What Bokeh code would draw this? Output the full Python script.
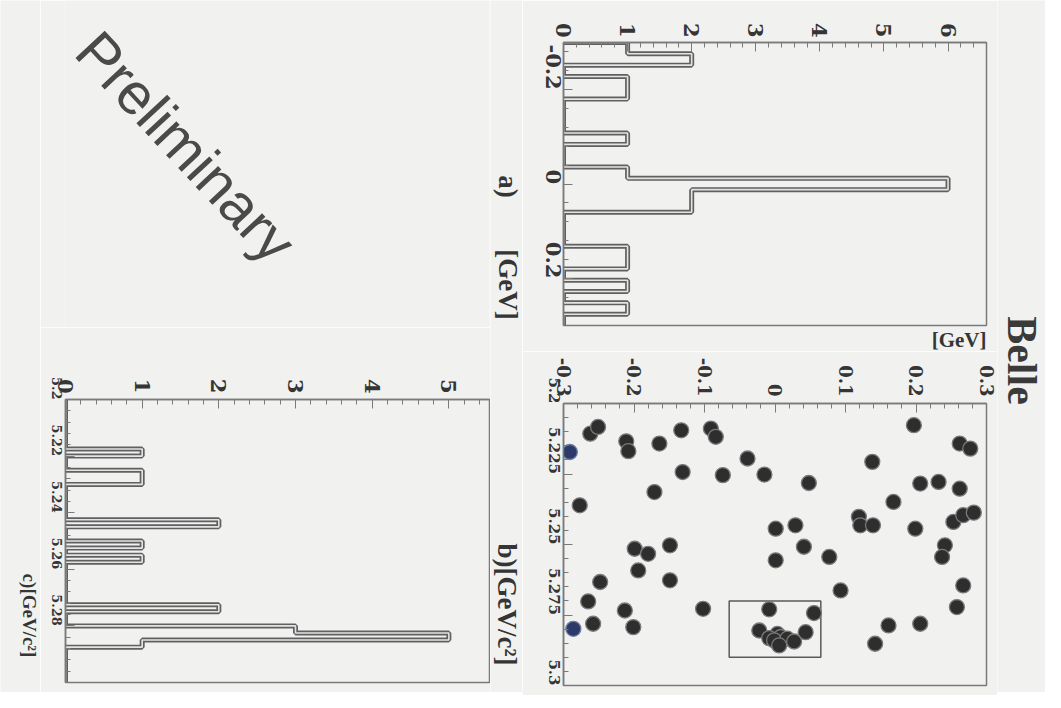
import math
import numpy as np
from bokeh.plotting import figure
from bokeh.layouts import row, column
from bokeh.models import Range1d, FixedTicker, Label, Title
from bokeh.embed import file_html
from bokeh.resources import INLINE

# ---------------- data ----------------
# a) Delta E distribution (events in the Mbc signal band), 25 bins over [-0.3, 0.3] GeV
de_range = (-0.3, 0.3)
de_nbins = 25
de_counts = [1, 2, 0, 1, 1, 0, 0, 0, 1, 0, 0, 1, 6, 2, 2, 0, 0, 0, 1, 1, 0, 1, 0, 1, 0]

# c) Mbc distribution (events in the Delta E signal band), 40 bins over [5.2, 5.3] GeV/c^2
mbc_range = (5.2, 5.3)
mbc_nbins = 40
mbc_counts = [0, 0, 0, 0, 0, 0, 0, 1, 0, 0,
              1, 1, 0, 0, 0, 0, 0, 2, 0, 0,
              1, 0, 1, 0, 0, 0, 0, 0, 0, 2,
              0, 0, 3, 5, 1, 0, 0, 0, 0, 0]

# b) scatter Mbc vs Delta E
scat_de = [-0.262, -0.251, -0.211, -0.208, -0.164, -0.133, -0.091, -0.084, -0.039, -0.131,
           -0.074, -0.015, 0.048, -0.171, -0.277, 0.138, 0.197, 0.262, 0.277, 0.206,
           0.232, 0.262, 0.168, 0.119, 0.121, 0.139, 0.199, 0.253, 0.267, 0.282,
           0.241, 0.237, 0.001, 0.029, 0.041, 0.001, 0.077, -0.199, -0.180, -0.149,
           -0.194, -0.149, -0.265, -0.248, -0.213, -0.201, -0.258, -0.102, 0.093, 0.267,
           0.258, 0.161, 0.206, 0.142,
           -0.0082, 0.0553, -0.0223, 0.0435, 0.0035, -0.0082, 0.0082, -0.0012, 0.0176, 0.0271, 0.0059]
scat_mbc = [5.2107, 5.2083, 5.2134, 5.2169, 5.2142, 5.2095, 5.2089, 5.2118, 5.2195, 5.2243,
            5.2254, 5.2252, 5.2282, 5.2314, 5.2361, 5.2207, 5.2077, 5.2142, 5.2160, 5.2284,
            5.2278, 5.2302, 5.2349, 5.2402, 5.2432, 5.2432, 5.2444, 5.2420, 5.2396, 5.2387,
            5.2503, 5.2544, 5.2444, 5.2432, 5.2508, 5.2556, 5.2544, 5.2515, 5.2533, 5.2503,
            5.2592, 5.2627, 5.2702, 5.2633, 5.2734, 5.2793, 5.2781, 5.2728, 5.2663, 5.2645,
            5.2722, 5.2787, 5.2781, 5.2852,
            5.2730, 5.2743, 5.2805, 5.2811, 5.2817, 5.2832, 5.2828, 5.2840, 5.2834, 5.2844, 5.2858]
blue_de = [-0.291, -0.286]
blue_mbc = [5.2172, 5.2799]
box_de = (-0.065, 0.065)
box_mbc = (5.27, 5.29)

# tick labels
count_ticks_a = [0, 1, 2, 3, 4, 5, 6]
de_ticks_a = [-0.2, 0.0, 0.2]
de_labels_a = ["-0.2", "0", "0.2"]
de_ticks_b = [-0.3, -0.2, -0.1, 0.0, 0.1, 0.2, 0.3]
de_labels_b = ["-0.3", "-0.2", "-0.1", "0", "0.1", "0.2", "0.3"]
mbc_ticks_b = [5.2, 5.225, 5.25, 5.275, 5.3]
mbc_labels_b = ["5.2", "5.225", "5.25", "5.275", "5.3"]
count_ticks_c = [0, 1, 2, 3, 4, 5]
mbc_ticks_c = [5.2, 5.22, 5.24, 5.26, 5.28]
mbc_labels_c = ["5.2", "5.22", "5.24", "5.26", "5.28"]

# ---------------- style ----------------
BG = "#f1f2f0"
FRAME = "#7a7a7a"
TXT = "#353535"
TICKFONT = "DejaVu Serif"
TITLEFONT = "Liberation Serif"
ROT = -math.pi / 2
FULL_H = 692


def minor(a, b, step):
    return [round(v, 5) for v in np.arange(a, b + step / 2, step)]


def base_fig(frame_w, frame_h, xr, yr, bl, br, bt, bb):
    p = figure(frame_width=frame_w, frame_height=frame_h, x_range=xr, y_range=yr,
               x_axis_location="above", y_axis_location="left",
               toolbar_location=None, output_backend="svg",
               min_border_left=bl, min_border_right=br, min_border_top=bt, min_border_bottom=bb,
               background_fill_color=BG, border_fill_color=BG)
    p.grid.visible = False
    p.outline_line_color = FRAME
    p.outline_line_width = 1.5
    return p


def style_axis(ax, ticks, minors, size, standoff, labels=None):
    ax.ticker = FixedTicker(ticks=ticks, minor_ticks=minors)
    if labels is not None:
        ax.major_label_overrides = {t: l for t, l in zip(ticks, labels)}
    ax.major_label_orientation = ROT
    ax.major_label_text_font = TICKFONT
    ax.major_label_text_font_style = "bold"
    ax.major_label_text_font_size = f"{size}px"
    ax.major_label_text_color = TXT
    ax.major_label_standoff = standoff
    ax.major_tick_in = 9
    ax.major_tick_out = 0
    ax.minor_tick_in = 5
    ax.minor_tick_out = 0
    ax.major_tick_line_color = FRAME
    ax.minor_tick_line_color = FRAME
    ax.axis_line_color = FRAME
    ax.axis_line_width = 1.5


def blank(width, height):
    p = figure(width=width, height=height, x_range=Range1d(0, width), y_range=Range1d(0, height),
               x_axis_type=None, y_axis_type=None, toolbar_location=None, output_backend="svg",
               min_border=0, background_fill_color=BG, border_fill_color=BG)
    p.grid.visible = False
    p.outline_line_color = None
    return p


def add_text(p, x, y, text, size, angle=ROT, font=TITLEFONT, style="bold", color=TXT):
    p.add_layout(Label(x=x, y=y, text=text, angle=angle, text_align="center",
                       text_baseline="middle", text_font=font, text_font_style=style,
                       text_font_size=f"{size}px", text_color=color))


def hist_path(lo, hi, nb, counts):
    edges = np.linspace(lo, hi, nb + 1)
    xs, ys = [0], [edges[0]]
    for i, c in enumerate(counts):
        xs += [c, c]
        ys += [edges[i], edges[i + 1]]
    xs.append(0)
    ys.append(edges[-1])
    return xs, ys


def draw_hist(p, xs, ys):
    p.line(xs, ys, line_width=5, line_color="#606060")
    p.line(xs, ys, line_width=1.6, line_color="#e4e4e4")


# page columns: strip L (8-48) | prelim & c (48-498) | strip M (498-530) | a & b (530-1005) | strip R (1005-1053)
# ---------------- panel a ----------------
A_MAX = 6.6
fa = base_fig(423, 283, Range1d(0, A_MAX), Range1d(0.3, -0.3), 41, 11, 42, 22)
style_axis(fa.xaxis[0], count_ticks_a, minor(0, 6.6, 0.2), 21, 5)
style_axis(fa.yaxis[0], de_ticks_a, minor(-0.28, 0.28, 0.04), 21, 10, de_labels_a)
xa, ya = hist_path(de_range[0], de_range[1], de_nbins, de_counts)
draw_hist(fa, xa, ya)
fa.add_layout(Title(text="[GeV]", align="right", standoff=0, text_font=TITLEFONT,
                    text_font_style="bold", text_font_size="21px", text_color=TXT), "below")

# ---------------- panel b ----------------
fb = base_fig(423, 282, Range1d(-0.3, 0.3), Range1d(5.3, 5.2), 41, 11, 52, 10)
style_axis(fb.xaxis[0], de_ticks_b, minor(-0.3, 0.3, 0.02), 18, 7, de_labels_b)
style_axis(fb.yaxis[0], mbc_ticks_b, minor(5.2, 5.3, 0.005), 15, 9, mbc_labels_b)
fb.quad(left=[box_de[0]], right=[box_de[1]], bottom=[box_mbc[0]], top=[box_mbc[1]],
        fill_color=None, line_color="#5a5a5a", line_width=1.5)
fb.scatter(scat_de, scat_mbc, size=15, marker="circle", fill_color="#2e2e2e",
           line_color="#7a7a7a", line_width=1.3)
fb.scatter(blue_de, blue_mbc, size=15, marker="circle", fill_color="#2b3a6b",
           line_color="#6f7a9a", line_width=1.3)

# ---------------- panel c ----------------
C_MAX = 5.53
fc = base_fig(424, 283, Range1d(0, C_MAX), Range1d(5.3, 5.2), 25, 1, 72, 10)
style_axis(fc.xaxis[0], count_ticks_c, minor(0, 5.4, 0.2), 21, 6)
style_axis(fc.yaxis[0], mbc_ticks_c, minor(5.2, 5.3, 0.004), 13, 9, mbc_labels_c)
xc, yc = hist_path(mbc_range[0], mbc_range[1], mbc_nbins, mbc_counts)
draw_hist(fc, xc, yc)

# ---------------- text areas ----------------
fp = blank(450, 327)
add_text(fp, 128, 181, "Preliminary", 58, angle=-0.82, font="Liberation Sans",
         style="normal", color="#4a4a4a")

sl = blank(40, FULL_H)
add_text(sl, 29, FULL_H - 615, "c)[GeV/c²]", 19)

sm = blank(32, FULL_H)
add_text(sm, 17, FULL_H - 186, "a)", 27)
add_text(sm, 17, FULL_H - 284, "[GeV]", 27)
add_text(sm, 16, FULL_H - 604, "b)[GeV/c²]", 27)

sr = blank(48, FULL_H)
add_text(sr, 24, FULL_H - 360, "Belle", 42, font="Liberation Serif", style="bold", color="#3a3a3a")

layout = row(sl, column(fp, fc), sm, column(fa, fb), sr)

open("out.html", "w").write(file_html(layout, INLINE))
